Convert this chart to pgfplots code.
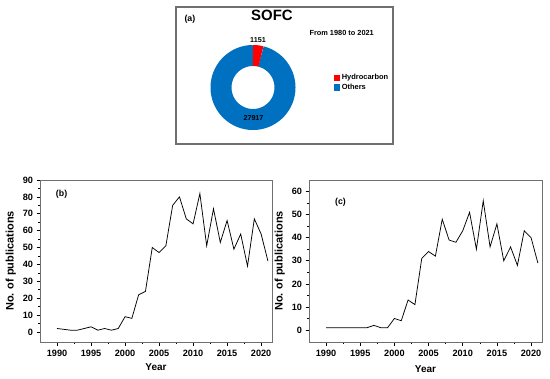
\documentclass[border=0pt]{standalone}
\usepackage{pgfplots}
\pgfplotsset{compat=1.18}
\usepackage{fontspec}
\setmainfont{Liberation Sans}
\definecolor{donutblue}{HTML}{0070C0}
\definecolor{donutred}{HTML}{FF0000}
\definecolor{framegray}{HTML}{707070}

\pgfplotstableread{
year b c
1990 2 1
1991 1.5 1
1992 1 1
1993 1 1
1994 2 1
1995 3 1
1996 1 1
1997 2 2
1998 1 1
1999 2 1
2000 9 5
2001 8 4
2002 22 13
2003 24 11
2004 50 31
2005 47 34
2006 51 32
2007 75 48
2008 80 39
2009 67 38
2010 64 43
2011 82 51
2012 51 35
2013 73 56
2014 53 36
2015 66 46
2016 49 30
2017 58 36
2018 39 28
2019 67 43
2020 58 40
2021 42 29
}\pubdata

\pgfplotsset{
  pubaxis/.style={
    scale only axis,
    xmin=1987.5, xmax=2021.6,
    xtick={1990,1995,...,2020},
    minor tick num=1,
    tick align=outside,
    xtick pos=lower, ytick pos=left,
    major tick length=3.5bp, minor tick length=2bp,
    axis line style={framegray, line width=0.9bp},
    tick style={black, line width=0.6bp},
    /pgf/number format/1000 sep={},
    /pgf/number format/assume math mode=true,
    tick label style={font=\fontsize{9.2}{10}\selectfont\bfseries},
    xlabel style={font=\fontsize{10}{11}\selectfont\bfseries},
    ylabel style={font=\fontsize{11}{12}\selectfont\bfseries},
    xlabel={Year},
    ylabel={No. of publications},
    xticklabel style={yshift=-1bp},
  }
}

\def\hydro{1151}
\def\others{27917}
\edef\ang{\fpeval{360*\hydro/(\hydro+\others)}}
\edef\startang{\fpeval{90-\ang}}

\begin{document}
\begin{tikzpicture}
\useasboundingbox (0,0) rectangle (550bp,379bp);

% panel (a) frame
\draw[framegray, line width=1.3bp] (176bp,372bp) rectangle (393bp,235bp);
\node[anchor=west, font=\fontsize{8.8}{9}\selectfont\bfseries] at (181bp,360bp) {(a)};
\node[font=\fontsize{15}{16}\selectfont\bfseries] at (272bp,364bp) {SOFC};
\node[anchor=west, font=\fontsize{7.4}{8}\selectfont\bfseries] at (306bp,346bp) {From 1980 to 2021};

\begin{axis}[
  at={(253bp,291.5bp)}, anchor=center,
  scale only axis, width=100bp, height=100bp,
  xmin=-50, xmax=50, ymin=-50, ymax=50,
  hide axis, clip=false,
  legend style={at={(rel axis cs:1.28,0.55)}, anchor=west, draw=none, fill=none,
    font=\fontsize{7.5}{8}\selectfont\bfseries, row sep=-1.5bp,
    /tikz/every even column/.append style={column sep=1bp}},
  legend cell align=left,
]
\addplot[donutblue, line width=21bp, domain=-270:\startang, samples=120, forget plot] ({32*cos(x)},{32*sin(x)});
\addplot[donutred, line width=21bp, domain=\startang:90, samples=20, forget plot] ({32*cos(x)},{32*sin(x)});
\addlegendimage{legend image code/.code={\fill[donutred] (0bp,-2.6bp) rectangle (5.2bp,2.6bp);}}
\addlegendentry{Hydrocarbon}
\addlegendimage{legend image code/.code={\fill[donutblue] (0bp,-2.6bp) rectangle (5.2bp,2.6bp);}}
\addlegendentry{Others}
\node[font=\fontsize{7.2}{8}\selectfont\bfseries] at (axis cs:5,47.5) {1151};
\node[font=\fontsize{7.2}{8}\selectfont\bfseries] at (axis cs:0.5,-31) {27917};
\end{axis}

% panel (b)
\begin{axis}[pubaxis,
  at={(40bp,37bp)}, anchor=south west,
  width=232bp, height=162bp,
  ymin=-6, ymax=90, ytick={0,10,...,90},
]
\addplot[black, line width=0.75bp] table[x=year, y=b] {\pubdata};
\node[font=\fontsize{8.8}{9}\selectfont\bfseries] at (rel axis cs:0.093,0.91) {(b)};
\end{axis}

% panel (c)
\begin{axis}[pubaxis,
  at={(309bp,37bp)}, anchor=south west,
  width=233bp, height=162bp,
  ymin=-5.2, ymax=65, ytick={0,10,...,60},
  xlabel style={yshift=-2bp},
]
\addplot[black, line width=0.75bp] table[x=year, y=c] {\pubdata};
\node[font=\fontsize{8.8}{9}\selectfont\bfseries] at (rel axis cs:0.135,0.865) {(c)};
\end{axis}
\end{tikzpicture}
\end{document}
